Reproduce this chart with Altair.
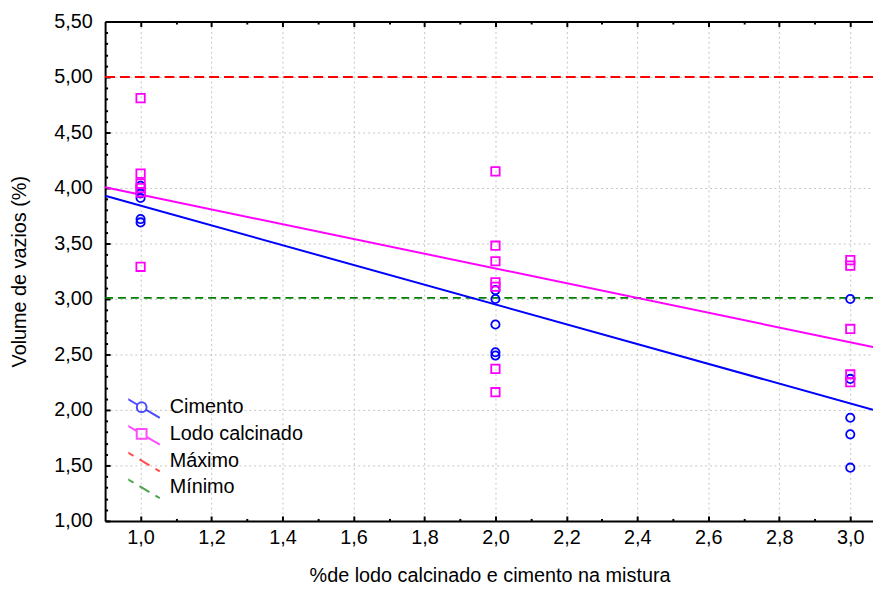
import altair as alt
import pandas as pd

# ---------------- data ----------------
cimento_x = [1, 1, 1, 1, 1, 2, 2, 2, 2, 2, 3, 3, 3, 3, 3]
cimento_y = [4.02, 3.95, 3.91, 3.72, 3.69,
             3.08, 3.00, 2.77, 2.52, 2.49,
             3.00, 2.28, 1.93, 1.78, 1.48]
lodo_x = [1, 1, 1, 1, 1, 1, 2, 2, 2, 2, 2, 2, 2, 3, 3, 3, 3, 3]
lodo_y = [4.81, 4.13, 4.04, 4.00, 3.96, 3.29,
          4.15, 3.48, 3.34, 3.15, 3.11, 2.37, 2.16,
          3.35, 3.30, 2.73, 2.32, 2.25]
series = ["Cimento", "Lodo calcinado", "Máximo", "Mínimo"]
colors = ["#0000ff", "#ff00ff", "#ff0000", "#008000"]
fit_series = ["Cimento", "Lodo calcinado"]
fit_intercept = [4.733, 4.605]
fit_slope = [-0.8915, -0.665]
limit_series = ["Máximo", "Mínimo"]
limit_values = [5.00, 3.01]
x_domain = [0.9, 3.064]
y_domain = [1.0, 5.5]
x_major = [1.0, 1.2, 1.4, 1.6, 1.8, 2.0, 2.2, 2.4, 2.6, 2.8, 3.0]
x_minor = [1.1, 1.3, 1.5, 1.7, 1.9, 2.1, 2.3, 2.5, 2.7, 2.9]
y_major = [1.0, 1.5, 2.0, 2.5, 3.0, 3.5, 4.0, 4.5, 5.0, 5.5]
y_minor = [1.1, 1.2, 1.3, 1.4, 1.6, 1.7, 1.8, 1.9, 2.1, 2.2, 2.3, 2.4,
           2.6, 2.7, 2.8, 2.9, 3.1, 3.2, 3.3, 3.4, 3.6, 3.7, 3.8, 3.9,
           4.1, 4.2, 4.3, 4.4, 4.6, 4.7, 4.8, 4.9, 5.1, 5.2, 5.3, 5.4]
x_title = "%de lodo calcinado e cimento na mistura"
y_title = "Volume de vazios (%)"

# ---------------- tables ----------------
pts_c = pd.DataFrame({"x": cimento_x, "y": cimento_y, "serie": "Cimento"})
pts_l = pd.DataFrame({"x": lodo_x, "y": lodo_y, "serie": "Lodo calcinado"})
pts_all = pd.concat([pts_c, pts_l], ignore_index=True)

fit_rows = []
for s, a, b in zip(fit_series, fit_intercept, fit_slope):
    for xv in x_domain:
        fit_rows.append({"serie": s, "x": xv, "y": a + b * xv})
fit_df = pd.DataFrame(fit_rows)

lim_df = pd.DataFrame({"serie": limit_series, "y": limit_values,
                       "x": x_domain[0], "x2": x_domain[1]})

FONT = "Liberation Sans"
FS = 20

# legend symbols (path units scaled by sqrt(symbolSize)/2)
p_cim = ("M-1.506,-0.889L-0.346,-0.205M0.346,0.205L1.506,0.889"
         "M0.406,0A0.406,0.406 0 1,1 -0.406,0A0.406,0.406 0 1,1 0.406,0Z")
p_lodo = ("M-1.506,-0.889L-0.406,-0.24M0.406,0.24L1.506,0.889"
          "M-0.406,-0.406L0.406,-0.406L0.406,0.406L-0.406,0.406Z")
p_dash = ("M-1.506,-0.889L-0.678,-0.399M-0.181,-0.105L0.648,0.383"
          "M1.145,0.675L1.506,0.889")
shapes = [p_cim, p_lodo, p_dash, p_dash]

color_scale = alt.Scale(domain=series, range=colors)
shape_scale = alt.Scale(domain=series, range=shapes)
xs = alt.Scale(domain=x_domain, nice=False, zero=False)
ys = alt.Scale(domain=y_domain, nice=False, zero=False)

lbl_x = "replace(format(datum.value, '.1f'), '.', ',')"
lbl_y = "replace(format(datum.value, '.2f'), '.', ',')"


def tick_axis(orient, values, size, domain=False):
    return alt.Axis(orient=orient, values=values, labels=False, grid=False,
                    domain=domain, domainColor="black", domainWidth=2,
                    ticks=True, tickSize={"expr": str(-size)},
                    tickColor="black", tickWidth=2, title=None)


x_main = alt.Axis(orient="bottom", values=x_major, labelExpr=lbl_x,
                  labelFont=FONT, labelFontSize=FS, labelColor="black",
                  labelPadding=7, labelFlush=False, labelOverlap=False,
                  ticks=False, tickSize=0, domain=True, domainColor="black",
                  domainWidth=2, grid=True, gridColor="#c4c4c4",
                  gridDash=[2, 3], gridWidth=1, title=x_title,
                  titleFont=FONT, titleFontSize=FS, titleFontWeight="normal",
                  titleColor="black", titleX=388, titleY=55,
                  titleBaseline="middle", titleAlign="center")
y_main = alt.Axis(orient="left", values=y_major, labelExpr=lbl_y,
                  labelFont=FONT, labelFontSize=FS, labelColor="black",
                  labelPadding=13, labelFlush=False, labelOverlap=False,
                  ticks=False, tickSize=0, domain=True, domainColor="black",
                  domainWidth=2, grid=True, gridColor="#c4c4c4",
                  gridDash=[2, 3], gridWidth=1, title=y_title,
                  titleFont=FONT, titleFontSize=FS, titleFontWeight="normal",
                  titleColor="black", titleX=-86, titleY=252, titleAngle=270,
                  titleBaseline="middle", titleAlign="center")

leg = alt.Legend(orient="none", legendX=23.4, legendY=376, title=None,
                 labelFont=FONT, labelFontSize=FS, labelColor="black",
                 symbolSize=590, symbolStrokeWidth=2, labelOffset=14.8,
                 rowPadding=0, padding=0, clipHeight=26.5,
                 symbolFillColor="transparent")

col = alt.Color("serie:N", scale=color_scale, legend=leg)

# legend layer first so that its legend definition is the base of the merge
legend_layer = alt.Chart(pts_all).transform_filter("false").mark_point(
    filled=False).encode(
    x=alt.X("x:Q", scale=xs, axis=None),
    y=alt.Y("y:Q", scale=ys, axis=None),
    color=col,
    shape=alt.Shape("serie:N", scale=shape_scale, legend=leg))

rule_max = alt.Chart(lim_df).transform_filter("datum.serie == 'Máximo'").mark_rule(
    strokeWidth=2, strokeDash=[10, 5]).encode(
    x=alt.X("x:Q", scale=xs, axis=x_main),
    x2="x2:Q",
    y=alt.Y("y:Q", scale=ys, axis=y_main),
    color=col)

rule_min = alt.Chart(lim_df).transform_filter("datum.serie == 'Mínimo'").mark_rule(
    strokeWidth=2, strokeDash=[8, 5]).encode(
    x=alt.X("x:Q", scale=xs, axis=tick_axis("bottom", x_major, 5)),
    x2="x2:Q",
    y=alt.Y("y:Q", scale=ys, axis=tick_axis("left", y_major, 5)),
    color=col)

lines = alt.Chart(fit_df).mark_line(strokeWidth=2).encode(
    x=alt.X("x:Q", scale=xs, axis=tick_axis("bottom", x_minor, 2.5)),
    y=alt.Y("y:Q", scale=ys, axis=tick_axis("left", y_minor, 2.5)),
    color=col,
    detail="serie:N")

circles = alt.Chart(pts_c).mark_point(shape="circle", filled=False, size=70,
                                      strokeWidth=1.8, opacity=1).encode(
    x=alt.X("x:Q", scale=xs, axis=tick_axis("top", x_major, 5, domain=True)),
    y=alt.Y("y:Q", scale=ys, axis=None),
    color=col)

squares = alt.Chart(pts_l).mark_point(shape="square", filled=False, size=72,
                                      strokeWidth=1.8, opacity=1).encode(
    x=alt.X("x:Q", scale=xs, axis=tick_axis("top", x_minor, 2.5)),
    y=alt.Y("y:Q", scale=ys, axis=None),
    color=col)

chart = alt.layer(legend_layer, rule_max, rule_min, lines, circles, squares).resolve_axis(
    x="independent", y="independent").properties(
    width=775, height=504,
    padding={"left": 98, "top": 11, "right": 0, "bottom": 62},
    autosize=alt.AutoSizeParams(type="none"),
    background="white").configure_view(stroke=None)

chart.save("out.html", embed_options={"renderer": "svg", "actions": False})
